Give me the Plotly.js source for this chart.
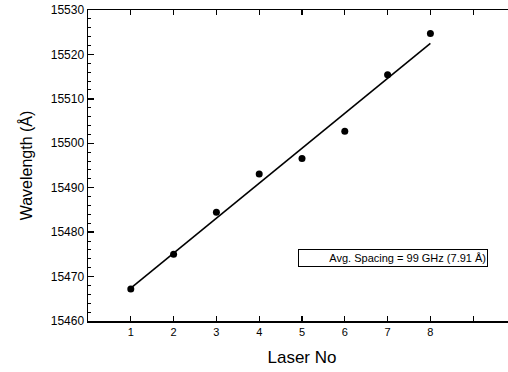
<!DOCTYPE html>
<html>
<head>
<meta charset="utf-8">
<script src="https://cdn.plot.ly/plotly-3.0.1.min.js"></script>
<style>
html,body{margin:0;padding:0;overflow:hidden;background:#fff;}
#chart{width:520px;height:372px;}
</style>
</head>
<body>
<div id="chart"></div>
<script>
// Data
var laserNo = [1, 2, 3, 4, 5, 6, 7, 8];
var wavelength = [15467.2, 15475.0, 15484.5, 15493.1, 15496.6, 15502.7, 15515.4, 15524.7];
var fitX = [1, 8];
var fitY = [15467.4, 15522.5];
var xTickVals = [1, 2, 3, 4, 5, 6, 7, 8, 9];
var xTickText = ['1', '2', '3', '4', '5', '6', '7', '8', ''];
var noteText = 'Avg. Spacing = 99 GHz (7.91 Å)';

var font = '"Liberation Sans", Arial, Helvetica, sans-serif';

var traces = [
  {x: fitX, y: fitY, mode: 'lines', type: 'scatter',
   line: {color: '#000', width: 1.6}, hoverinfo: 'skip'},
  {x: laserNo, y: wavelength, mode: 'markers', type: 'scatter',
   marker: {color: '#000', size: 7}}
];

var layout = {
  width: 520, height: 372,
  margin: {l: 88, r: 4, t: 10, b: 51},
  showlegend: false,
  paper_bgcolor: '#fff', plot_bgcolor: '#fff',
  font: {family: font, color: '#000'},
  xaxis: {
    range: [0, 10], tickvals: xTickVals, ticktext: xTickText,
    ticks: 'inside', ticklen: 5, tickwidth: 1.3, tickcolor: '#000',
    showline: true, linewidth: 1.5, linecolor: '#000', mirror: 'ticks',
    showgrid: false, zeroline: false,
    tickfont: {size: 11, family: font},
    title: {text: 'Laser No', font: {size: 17, family: font}, standoff: 14}
  },
  yaxis: {
    range: [15460, 15530], dtick: 10, tick0: 15460,
    tickformat: 'd', separatethousands: false, exponentformat: 'none',
    ticks: 'inside', ticklen: 6, tickwidth: 1.3, tickcolor: '#000',
    minor: {dtick: 2, ticks: 'inside', ticklen: 3, tickwidth: 1, tickcolor: '#000', showgrid: false},
    showline: true, linewidth: 1.5, linecolor: '#000', mirror: 'ticks',
    showgrid: false, zeroline: false,
    tickfont: {size: 12, family: font},
    title: {text: 'Wavelength (Å)', font: {size: 16, family: font}, standoff: 14}
  },
  annotations: [{
    x: 7.13, y: 15474.2, xref: 'x', yref: 'y',
    text: noteText, showarrow: false,
    font: {size: 11, family: font, color: '#000'},
    bordercolor: '#000', borderwidth: 1, bgcolor: '#fff',
    width: 186, height: 14, borderpad: 1, align: 'right'
  }]
};

Plotly.newPlot('chart', traces, layout, {displayModeBar: false, staticPlot: true});
</script>
</body>
</html>
